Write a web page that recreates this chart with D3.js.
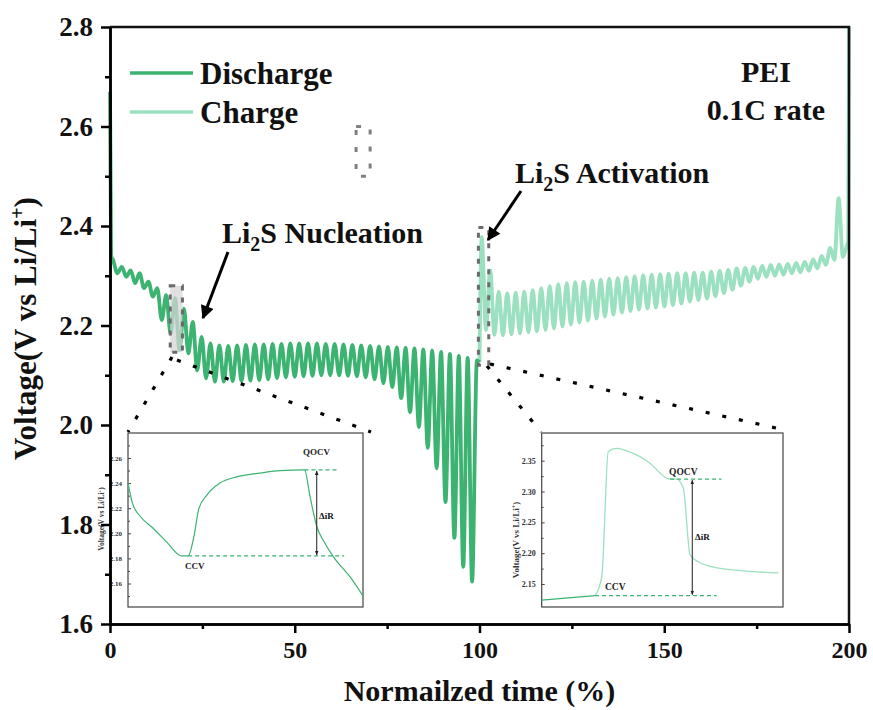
<!DOCTYPE html>
<html>
<head>
<meta charset="utf-8">
<script src="https://cdn.jsdelivr.net/npm/d3@7"></script>
<style>
  body { margin: 0; background: #fff; }
  svg { font-family: "Liberation Serif", "Times New Roman", serif; font-weight: bold; }
</style>
</head>
<body>
<div id="app"></div>
<script>
const container = document.querySelector('#app');

// chart size and frame
const width = 873;
const height = 710;
const marginTop = 27;
const marginRight = 24;
const marginBottom = 86;
const marginLeft = 110;

// colours
const dischargeColor = "#3cb371";
const chargeColor = "#9be0bf";

// ---- data ----
// discharge: one value per GITT pulse (relaxed top, pulse bottom)
const dischargeStart = [[0, 2.67], [0.3, 2.34]];
const dischargeT0 = 0.8;
const dischargePeriod = 2.4;
const dischargePeaks = [2.332, 2.318, 2.311, 2.305, 2.288, 2.275, 2.261, 2.255, 2.234, 2.207,
  2.177, 2.164, 2.160, 2.159, 2.160, 2.161, 2.162, 2.162, 2.163, 2.163,
  2.164, 2.164, 2.164, 2.164, 2.163, 2.163, 2.162, 2.161, 2.160, 2.159,
  2.158, 2.157, 2.156, 2.155, 2.154, 2.152, 2.150, 2.147, 2.143, 2.139, 2.135];
const dischargeTroughs = [2.305, 2.298, 2.285, 2.275, 2.258, 2.211, 2.184, 2.151, 2.144, 2.110,
  2.094, 2.087, 2.087, 2.088, 2.088, 2.089, 2.090, 2.092, 2.094, 2.096,
  2.097, 2.098, 2.099, 2.100, 2.100, 2.100, 2.099, 2.098, 2.096, 2.092,
  2.084, 2.076, 2.054, 2.026, 1.996, 1.954, 1.913, 1.845, 1.773, 1.715, 1.685];
const dischargeEnd = [[99.3, 2.13], [100, 2.126]];

// charge: pulse top, relaxed bottom
const chargeStart = [[100, 2.126]];
const chargeT0 = 100.6;
const chargePeriod = 2.3;
const chargePeaks = [2.378, 2.311, 2.268, 2.265, 2.266, 2.268, 2.271, 2.275, 2.279, 2.283,
  2.285, 2.287, 2.288, 2.290, 2.292, 2.294, 2.295, 2.297, 2.299, 2.301,
  2.302, 2.303, 2.304, 2.305, 2.305, 2.306, 2.306, 2.308, 2.310, 2.312,
  2.315, 2.316, 2.318, 2.320, 2.322, 2.323, 2.324, 2.326, 2.328, 2.333,
  2.340, 2.356, 2.456];
const chargeTroughs = [2.191, 2.181, 2.180, 2.182, 2.184, 2.186, 2.188, 2.191, 2.194, 2.198,
  2.202, 2.206, 2.210, 2.214, 2.218, 2.222, 2.226, 2.229, 2.232, 2.234,
  2.236, 2.238, 2.241, 2.244, 2.248, 2.251, 2.254, 2.259, 2.265, 2.272,
  2.280, 2.288, 2.294, 2.298, 2.300, 2.302, 2.305, 2.307, 2.310, 2.315,
  2.322, 2.332, 2.338];
const chargeEnd = [[199.4, 2.36], [199.8, 2.37], [200, 2.8]];

// axis ticks
const xTicks = [0, 50, 100, 150, 200];
const xMinor = [25, 75, 125, 175];
const yTicks = [1.6, 1.8, 2.0, 2.2, 2.4, 2.6, 2.8];
const yMinor = [1.7, 1.9, 2.1, 2.3, 2.5, 2.7];

// inset 1: one nucleation pulse (time in % of inset width)
const inset1Time = [0, 1.9, 5.0, 10.7, 16.5, 22.8, 25.6, 28.0, 30.2, 33.4, 39.1, 46.2, 56.2, 64.7, 75.1, 77.5, 80.4, 83.2, 87.5, 94.6, 100];
const inset1Volt = [2.240, 2.224, 2.214, 2.204, 2.193, 2.182, 2.182, 2.197, 2.220, 2.230, 2.240, 2.245, 2.248, 2.250, 2.2505, 2.229, 2.205, 2.194, 2.181, 2.165, 2.150];
const inset1Ticks = [2.16, 2.18, 2.20, 2.22, 2.24, 2.26];
const inset1Minor = [2.15, 2.17, 2.19, 2.21, 2.23, 2.25, 2.27];
const inset1QOCV = 2.2505;
const inset1CCV = 2.182;

// inset 2: activation pulse
const inset2Time = [0, 22.1];
const inset2Volt = [2.124, 2.131];
const inset2ChargeTime = [22.1, 24.9, 27.6, 31.1, 37.3, 44.2, 53.2, 55.9, 58.7, 61.5, 64.9, 70.5, 81.5, 98.1];
const inset2ChargeVolt = [2.131, 2.162, 2.365, 2.370, 2.363, 2.348, 2.320, 2.320, 2.305, 2.197, 2.186, 2.178, 2.172, 2.168];
const inset2Ticks = [2.15, 2.20, 2.25, 2.30, 2.35];
const inset2Minor = [2.175, 2.225, 2.275, 2.325, 2.375];
const inset2QOCV = 2.320;
const inset2CCV = 2.131;

// ---- scales ----
const x = d3.scaleLinear().domain([0, 200]).range([marginLeft, width - marginRight]);
const y = d3.scaleLinear().domain([1.6, 2.8]).range([height - marginBottom, marginTop]);

// build the pulse points: top at the start of each pulse, bottom half way
function pulsePoints(start, t0, period, tops, bottoms, end) {
  const pts = start.slice();
  tops.forEach((v, i) => {
    pts.push([t0 + i * period, v]);
    pts.push([t0 + i * period + period / 2, bottoms[i]]);
  });
  return pts.concat(end);
}
const dischargeData = pulsePoints(dischargeStart, dischargeT0, dischargePeriod, dischargePeaks, dischargeTroughs, dischargeEnd);
const chargeData = pulsePoints(chargeStart, chargeT0, chargePeriod, chargePeaks, chargeTroughs, chargeEnd);

const svg = d3.create("svg")
    .attr("width", width)
    .attr("height", height);

svg.append("defs").html(`
  <marker id="arrowHead" viewBox="0 0 10 10" refX="9" refY="5" markerWidth="5" markerHeight="4.5" orient="auto">
    <path d="M0,0 L10,5 L0,10 z" fill="#000"/>
  </marker>
  <marker id="smallHead" viewBox="0 0 10 10" refX="9" refY="5" markerWidth="4" markerHeight="4" orient="auto-start-reverse">
    <path d="M0,1 L10,5 L0,9 z" fill="#222"/>
  </marker>`);

// ---- main curves ----
const line = d3.line()
  .x(d => x(d[0]))
  .y(d => y(d[1]))
  .curve(d3.curveMonotoneX);

svg.append("path")
  .datum(chargeData)
  .attr("fill", "none")
  .attr("stroke", chargeColor)
  .attr("stroke-width", 3.8)
  .attr("d", line);

svg.append("path")
  .datum(dischargeData)
  .attr("fill", "none")
  .attr("stroke", dischargeColor)
  .attr("stroke-width", 3.8)
  .attr("d", line);

// ---- highlight boxes ----
svg.append("rect")
  .attr("x", x(16.3)).attr("y", y(2.28))
  .attr("width", x(19.6) - x(16.3)).attr("height", y(2.146) - y(2.28))
  .attr("fill", "#d6d6d6").attr("fill-opacity", 0.75)
  .attr("stroke", "#6b6b6b").attr("stroke-width", 3).attr("stroke-dasharray", "5,7");

svg.append("rect")
  .attr("x", x(99.7)).attr("y", y(2.397))
  .attr("width", x(102.5) - x(99.7)).attr("height", y(2.12) - y(2.397))
  .attr("fill", "none")
  .attr("stroke", "#6b6b6b").attr("stroke-width", 3).attr("stroke-dasharray", "5,8");

svg.append("rect")
  .attr("x", x(66.6)).attr("y", y(2.6))
  .attr("width", x(70.4) - x(66.6)).attr("height", y(2.5) - y(2.6))
  .attr("fill", "none")
  .attr("stroke", "#808080").attr("stroke-width", 3).attr("stroke-dasharray", "5,12");

// ---- dotted connectors ----
const connectors = [
  [[172, 357], [128, 432]],
  [[177, 360], [371, 432]],
  [[487, 366], [541, 432]],
  [[490, 364], [785, 430]]
];
connectors.forEach(c => {
  svg.append("line")
    .attr("x1", c[0][0]).attr("y1", c[0][1])
    .attr("x2", c[1][0]).attr("y2", c[1][1])
    .attr("stroke", "#000").attr("stroke-width", 3.2)
    .attr("stroke-dasharray", "4,13");
});

// ---- inset 1 ----
const in1 = { left: 128, right: 363, top: 433, bottom: 607 };
const ix1 = d3.scaleLinear().domain([0, 100]).range([in1.left, in1.right]);
const iy1 = d3.scaleLinear().domain([2.16, 2.26]).range([583.5, 458]);
const g1 = svg.append("g");
g1.append("rect")
  .attr("x", in1.left).attr("y", in1.top)
  .attr("width", in1.right - in1.left).attr("height", in1.bottom - in1.top)
  .attr("fill", "#fff").attr("stroke", "#444").attr("stroke-width", 1.2);
g1.append("g")
  .attr("transform", `translate(${in1.left},0)`)
  .call(d3.axisRight(iy1).tickValues(inset1Minor).tickSize(2).tickFormat(""))
  .call(g => g.select(".domain").remove())
  .call(g => g.selectAll("line").attr("stroke", "#444"));
g1.append("g")
  .attr("transform", `translate(${in1.left},0)`)
  .call(d3.axisRight(iy1).tickValues(inset1Ticks).tickSize(3).tickFormat(d3.format(".2f")))
  .call(g => g.select(".domain").remove())
  .call(g => g.selectAll("line").attr("stroke", "#444"))
  .call(g => g.selectAll("text")
    .attr("x", -6).attr("text-anchor", "end")
    .attr("font-family", "Liberation Serif").attr("font-weight", "bold")
    .attr("font-size", 7).attr("fill", "#333"));
g1.append("text")
  .attr("transform", `translate(104,519) rotate(-90)`)
  .attr("text-anchor", "middle")
  .attr("font-size", 7.5).attr("fill", "#333")
  .text("Voltage(V vs Li/Li")
  .append("tspan").attr("dy", -3).attr("font-size", 5).text("+")
  .select(function() { return this.parentNode; })
  .append("tspan").attr("dy", 3).text(")");
g1.append("path")
  .datum(inset1Time.map((t, i) => [t, inset1Volt[i]]))
  .attr("fill", "none").attr("stroke", dischargeColor).attr("stroke-width", 1.2)
  .attr("d", d3.line().x(d => ix1(d[0])).y(d => iy1(d[1])).curve(d3.curveMonotoneX));
g1.append("line")
  .attr("x1", ix1(75.1)).attr("x2", ix1(89)).attr("y1", iy1(inset1QOCV)).attr("y2", iy1(inset1QOCV))
  .attr("stroke", dischargeColor).attr("stroke-width", 1.2).attr("stroke-dasharray", "4,3");
g1.append("line")
  .attr("x1", ix1(25.6)).attr("x2", ix1(92)).attr("y1", iy1(inset1CCV)).attr("y2", iy1(inset1CCV))
  .attr("stroke", dischargeColor).attr("stroke-width", 1.2).attr("stroke-dasharray", "4,3");
g1.append("line")
  .attr("x1", 316.7).attr("x2", 316.7).attr("y1", iy1(inset1QOCV) + 1).attr("y2", iy1(inset1CCV) - 1)
  .attr("stroke", "#333").attr("stroke-width", 1.1)
  .attr("marker-start", "url(#smallHead)").attr("marker-end", "url(#smallHead)");
g1.append("text").attr("x", 303).attr("y", 455).attr("font-size", 9).attr("fill", "#222").text("QOCV");
g1.append("text").attr("x", 185).attr("y", 569).attr("font-size", 9).attr("fill", "#222").text("CCV");
g1.append("text").attr("x", 319).attr("y", 519).attr("font-size", 9).attr("fill", "#111").text("\u0394iR");

// ---- inset 2 ----
const in2 = { left: 541.7, right: 783, top: 433, bottom: 607 };
const ix2 = d3.scaleLinear().domain([0, 100]).range([in2.left, in2.right]);
const iy2 = d3.scaleLinear().domain([2.15, 2.35]).range([584, 460.7]);
const g2 = svg.append("g");
g2.append("rect")
  .attr("x", in2.left).attr("y", in2.top)
  .attr("width", in2.right - in2.left).attr("height", in2.bottom - in2.top)
  .attr("fill", "#fff").attr("stroke", "#444").attr("stroke-width", 1.2);
g2.append("g")
  .attr("transform", `translate(${in2.left},0)`)
  .call(d3.axisRight(iy2).tickValues(inset2Minor).tickSize(2).tickFormat(""))
  .call(g => g.select(".domain").remove())
  .call(g => g.selectAll("line").attr("stroke", "#444"));
g2.append("g")
  .attr("transform", `translate(${in2.left},0)`)
  .call(d3.axisRight(iy2).tickValues(inset2Ticks).tickSize(3).tickFormat(d3.format(".2f")))
  .call(g => g.select(".domain").remove())
  .call(g => g.selectAll("line").attr("stroke", "#444"))
  .call(g => g.selectAll("text")
    .attr("x", -6).attr("text-anchor", "end")
    .attr("font-family", "Liberation Serif").attr("font-weight", "bold")
    .attr("font-size", 8).attr("fill", "#333"));
g2.append("text")
  .attr("transform", `translate(519,540) rotate(-90)`)
  .attr("text-anchor", "middle")
  .attr("font-size", 9).attr("fill", "#333")
  .text("Voltage(V vs Li/Li")
  .append("tspan").attr("dy", -3.5).attr("font-size", 6).text("+")
  .select(function() { return this.parentNode; })
  .append("tspan").attr("dy", 3.5).text(")");
const inLine2 = d3.line().x(d => ix2(d[0])).y(d => iy2(d[1]));
g2.append("path")
  .datum(inset2Time.map((t, i) => [t, inset2Volt[i]]))
  .attr("fill", "none").attr("stroke", dischargeColor).attr("stroke-width", 1.2)
  .attr("d", inLine2);
g2.append("path")
  .datum(inset2ChargeTime.map((t, i) => [t, inset2ChargeVolt[i]]))
  .attr("fill", "none").attr("stroke", chargeColor).attr("stroke-width", 1.3)
  .attr("d", inLine2.curve(d3.curveMonotoneX));
g2.append("line")
  .attr("x1", ix2(53.2)).attr("x2", ix2(74.5)).attr("y1", iy2(inset2QOCV)).attr("y2", iy2(inset2QOCV))
  .attr("stroke", dischargeColor).attr("stroke-width", 1.2).attr("stroke-dasharray", "4,3");
g2.append("line")
  .attr("x1", ix2(22.1)).attr("x2", ix2(72.5)).attr("y1", iy2(inset2CCV)).attr("y2", iy2(inset2CCV))
  .attr("stroke", dischargeColor).attr("stroke-width", 1.2).attr("stroke-dasharray", "4,3");
g2.append("line")
  .attr("x1", 692.3).attr("x2", 692.3).attr("y1", iy2(inset2QOCV) + 1).attr("y2", iy2(inset2CCV) - 1)
  .attr("stroke", "#333").attr("stroke-width", 1.1)
  .attr("marker-start", "url(#smallHead)").attr("marker-end", "url(#smallHead)");
g2.append("text").attr("x", 669).attr("y", 475).attr("font-size", 9.5).attr("fill", "#222").text("QOCV");
g2.append("text").attr("x", 605).attr("y", 590).attr("font-size", 9.5).attr("fill", "#222").text("CCV");
g2.append("text").attr("x", 695).attr("y", 540).attr("font-size", 9).attr("fill", "#111").text("\u0394iR");

// ---- main axes ----
function styleAxis(g, size) {
  g.select(".domain").attr("stroke-width", 2.5);
  g.selectAll(".tick line").attr("stroke-width", 2.5);
  g.selectAll("text")
    .attr("font-family", "Liberation Serif").attr("font-weight", "bold")
    .attr("font-size", size).attr("fill", "#111");
}

// frame on top and right
svg.append("path")
  .attr("d", `M${x(0)},${y(2.8)} H${x(200)} V${y(1.6)}`)
  .attr("fill", "none").attr("stroke", "#111").attr("stroke-width", 2.5);

svg.append("g")
  .attr("transform", `translate(0,${y(1.6)})`)
  .call(d3.axisBottom(x).tickValues(xMinor).tickSize(5).tickSizeOuter(0).tickFormat(""))
  .call(g => styleAxis(g, 24));
svg.append("g")
  .attr("transform", `translate(0,${y(1.6)})`)
  .call(d3.axisBottom(x).tickValues(xTicks).tickSize(9).tickSizeOuter(0).tickPadding(8))
  .call(g => styleAxis(g, 24));

svg.append("g")
  .attr("transform", `translate(${x(0)},0)`)
  .call(d3.axisLeft(y).tickValues(yMinor).tickSize(5).tickSizeOuter(0).tickFormat(""))
  .call(g => styleAxis(g, 27));
svg.append("g")
  .attr("transform", `translate(${x(0)},0)`)
  .call(d3.axisLeft(y).tickValues(yTicks).tickSize(9).tickSizeOuter(0).tickPadding(8).tickFormat(d3.format(".1f")))
  .call(g => styleAxis(g, 27));

// axis titles
svg.append("text")
  .attr("x", x(100)).attr("y", 701)
  .attr("text-anchor", "middle")
  .attr("font-size", 30).attr("fill", "#111")
  .text("Normailzed time (%)");

const yTitle = svg.append("text")
  .attr("transform", `translate(36,${y(2.2) + 3}) rotate(-90)`)
  .attr("text-anchor", "middle")
  .attr("font-size", 31).attr("fill", "#111");
yTitle.append("tspan").text("Voltage(V vs Li/Li");
yTitle.append("tspan").attr("dy", -12).attr("font-size", 20).text("+");
yTitle.append("tspan").attr("dy", 12).text(")");

// ---- legend ----
const legend = [["Discharge", dischargeColor, 73], ["Charge", chargeColor, 112]];
legend.forEach(([label, color, ly]) => {
  svg.append("line")
    .attr("x1", 130).attr("x2", 193).attr("y1", ly).attr("y2", ly)
    .attr("stroke", color).attr("stroke-width", 3.4);
  svg.append("text")
    .attr("x", 200).attr("y", ly + 11)
    .attr("font-size", 31).attr("fill", "#111")
    .text(label);
});

svg.append("text").attr("x", 766).attr("y", 82).attr("text-anchor", "middle")
  .attr("font-size", 30).attr("fill", "#111").text("PEI");
svg.append("text").attr("x", 766).attr("y", 120).attr("text-anchor", "middle")
  .attr("font-size", 30).attr("fill", "#111").text("0.1C rate");

// ---- annotations ----
function li2sLabel(tx, ty, rest) {
  const t = svg.append("text").attr("x", tx).attr("y", ty)
    .attr("font-size", 30).attr("fill", "#111");
  t.append("tspan").text("Li");
  t.append("tspan").attr("dy", 8).attr("font-size", 20).text("2");
  t.append("tspan").attr("dy", -8).text("S " + rest);
}
li2sLabel(222, 243, "Nucleation");
li2sLabel(515, 183, "Activation");

svg.append("line")
  .attr("x1", 228).attr("y1", 252).attr("x2", 203).attr("y2", 318)
  .attr("stroke", "#000").attr("stroke-width", 3)
  .attr("marker-end", "url(#arrowHead)");
svg.append("line")
  .attr("x1", 521).attr("y1", 191).attr("x2", 488).attr("y2", 240)
  .attr("stroke", "#000").attr("stroke-width", 3)
  .attr("marker-end", "url(#arrowHead)");

container.append(svg.node());
</script>
</body>
</html>
